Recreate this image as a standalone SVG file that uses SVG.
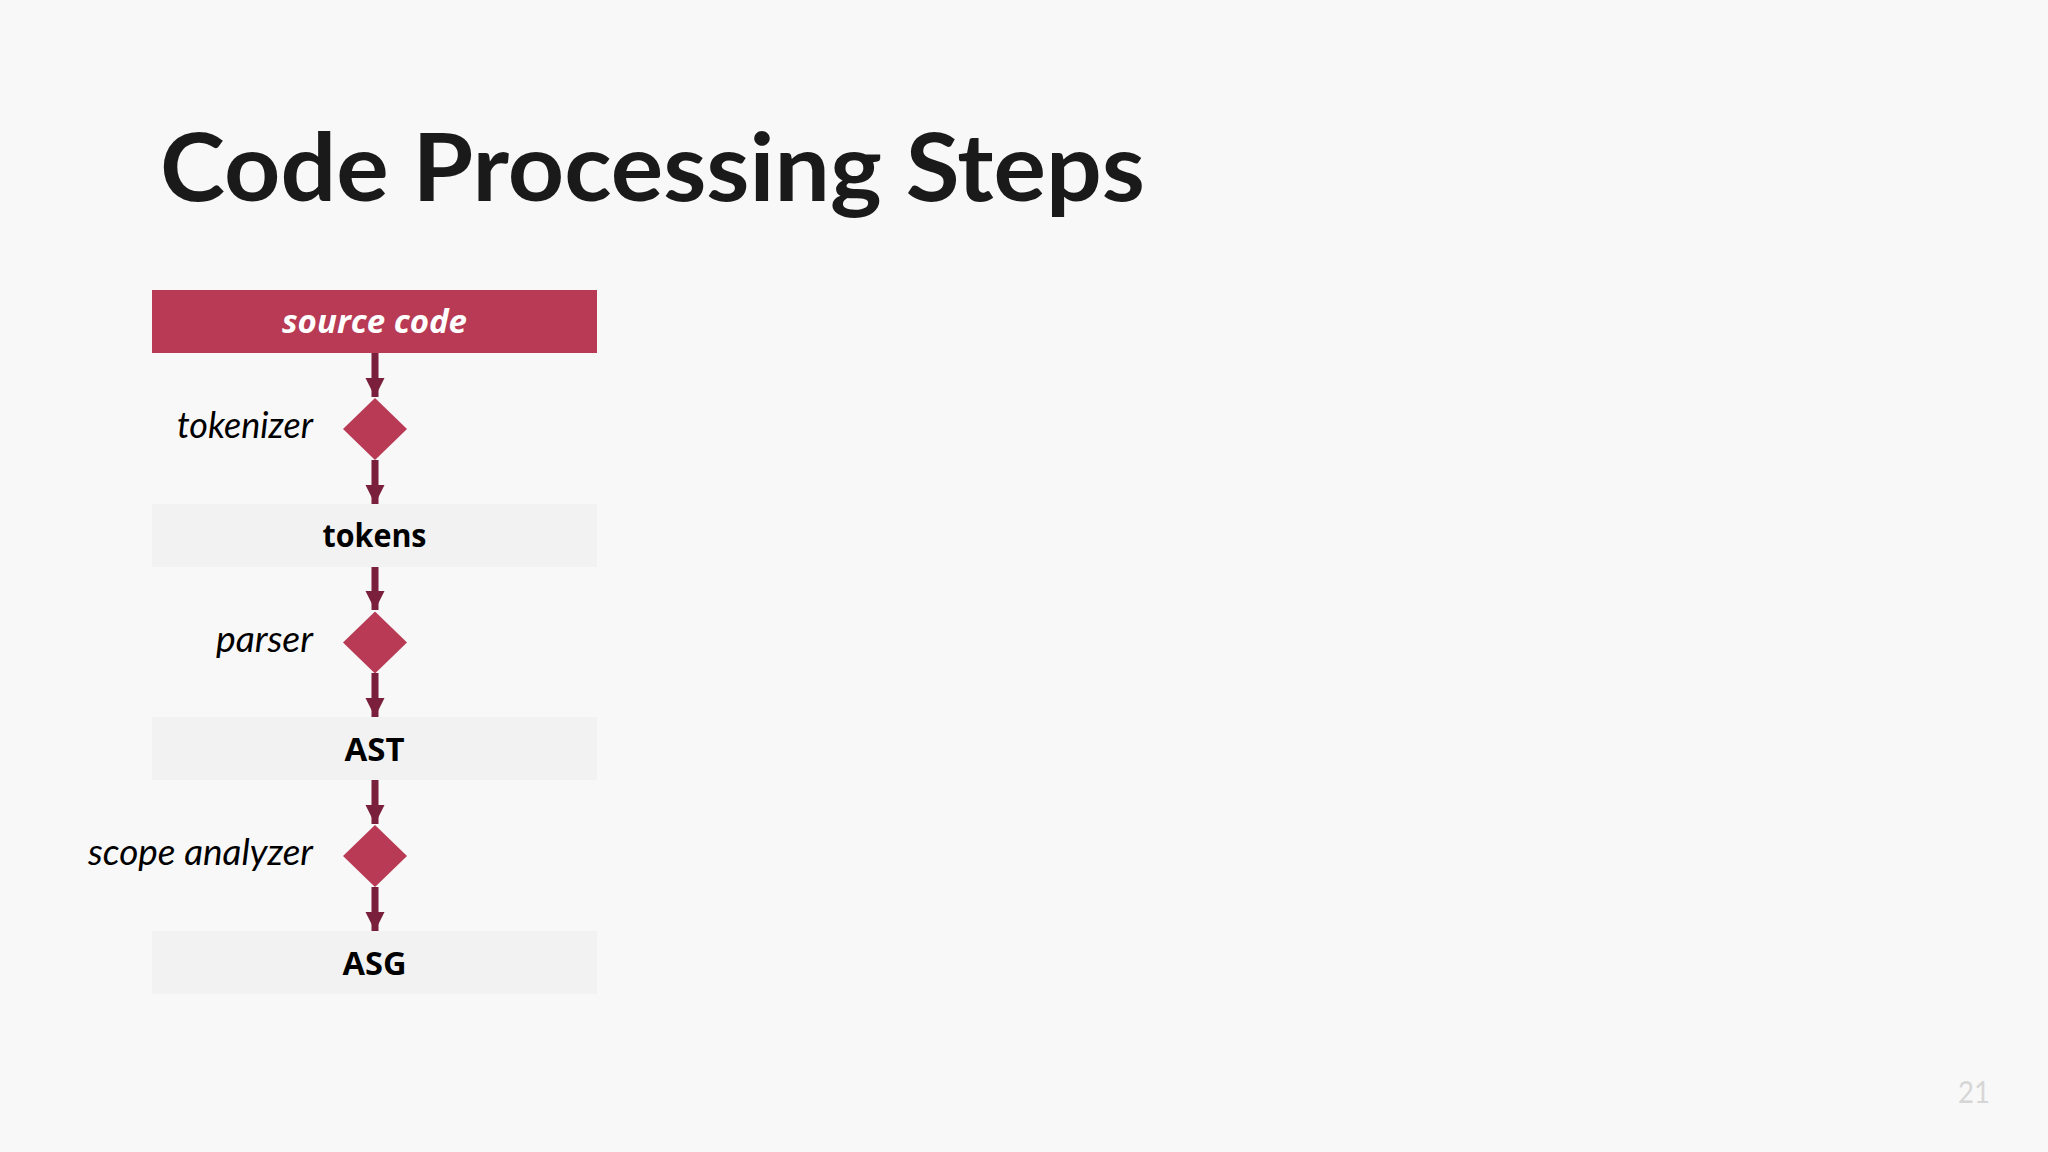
<svg xmlns="http://www.w3.org/2000/svg" width="2048" height="1152" viewBox="0 0 2048 1152">
  <defs>
    <marker id="arrow" markerUnits="userSpaceOnUse" markerWidth="20" markerHeight="20" viewBox="0 0 20 20" refX="19" refY="10" orient="auto">
      <path d="M0,0.5 L19,10 L0,19.5 Z" fill="#7A1F3C"/>
    </marker>
  </defs>
  <style>
    .bg { fill: #F8F8F8; }
    .title { font-family: "Lato", "Open Sans", sans-serif; font-weight: 700; font-size: 94px; fill: #1A1A1A; }
    .data { fill: #F2F2F2; }
    .src { fill: #B83A55; }
    .step { fill: #B83A55; }
    .boxlabel { font-family: "Open Sans", "Liberation Sans", sans-serif; font-weight: 700; font-size: 33px; fill: #000000; text-anchor: middle; }
    .srclabel { font-family: "Open Sans", "Liberation Sans", sans-serif; font-weight: 700; font-style: italic; font-size: 33px; fill: #FFFFFF; text-anchor: middle; }
    .steplabel { font-family: "Lato", "Open Sans", sans-serif; font-style: italic; font-size: 37px; fill: #000000; text-anchor: end; }
    .conn { stroke: #7A1F3C; stroke-width: 7; fill: none; marker-end: url(#arrow); }
    .pagenum { font-family: "Lato", "Open Sans", sans-serif; font-size: 30px; fill: #D6D6D6; }
  </style>
  <rect class="bg" x="0" y="0" width="2048" height="1152"/>
  <text class="title" x="160" y="201" textLength="985" lengthAdjust="spacingAndGlyphs">Code Processing Steps</text>

  <g id="connectors">
    <line class="conn" x1="375" y1="353" x2="375" y2="397"/>
    <line class="conn" x1="375" y1="460" x2="375" y2="504"/>
    <line class="conn" x1="375" y1="567" x2="375" y2="610"/>
    <line class="conn" x1="375" y1="673" x2="375" y2="717"/>
    <line class="conn" x1="375" y1="780" x2="375" y2="824"/>
    <line class="conn" x1="375" y1="887" x2="375" y2="931"/>
  </g>

  <g id="source-code">
    <rect class="src" x="152" y="290" width="445" height="63"/>
    <text class="srclabel" x="374.5" y="333" textLength="185" lengthAdjust="spacingAndGlyphs">source code</text>
  </g>

  <g id="tokenizer">
    <polygon class="step" points="375,398 407,429 375,460 343,429"/>
    <text class="steplabel" x="313" y="438" textLength="136" lengthAdjust="spacingAndGlyphs">tokenizer</text>
  </g>

  <g id="tokens">
    <rect class="data" x="152" y="504" width="445" height="63"/>
    <text class="boxlabel" x="374.5" y="547" textLength="104" lengthAdjust="spacingAndGlyphs">tokens</text>
  </g>

  <g id="parser">
    <polygon class="step" points="375,611.5 407,642.5 375,673.5 343,642.5"/>
    <text class="steplabel" x="313" y="651.5" textLength="97" lengthAdjust="spacingAndGlyphs">parser</text>
  </g>

  <g id="ast">
    <rect class="data" x="152" y="717" width="445" height="63"/>
    <text class="boxlabel" x="374.5" y="761" textLength="60" lengthAdjust="spacingAndGlyphs">AST</text>
  </g>

  <g id="scope-analyzer">
    <polygon class="step" points="375,825 407,856 375,887 343,856"/>
    <text class="steplabel" x="313" y="865" textLength="225" lengthAdjust="spacingAndGlyphs">scope analyzer</text>
  </g>

  <g id="asg">
    <rect class="data" x="152" y="931" width="445" height="63"/>
    <text class="boxlabel" x="374.5" y="975" textLength="64" lengthAdjust="spacingAndGlyphs">ASG</text>
  </g>

  <text class="pagenum" x="1958" y="1103" textLength="32" lengthAdjust="spacingAndGlyphs">21</text>
</svg>
